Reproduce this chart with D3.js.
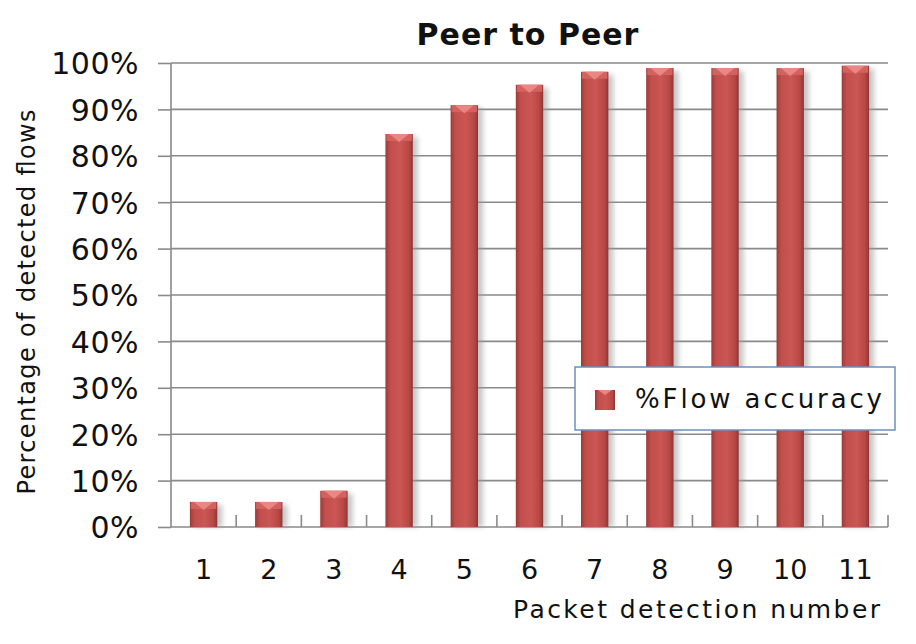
<!DOCTYPE html>
<html>
<head>
<meta charset="utf-8">
<script src="https://cdn.jsdelivr.net/npm/d3@7"></script>
<style>
  body { margin: 0; background: #fff; }
  text { font-family: "DejaVu Sans", Tahoma, sans-serif; fill: #111; }
</style>
</head>
<body>
<div class="chart"></div>
<script>
// Data
var categories = ["1", "2", "3", "4", "5", "6", "7", "8", "9", "10", "11"];
var flowAccuracy = [5.4, 5.4, 7.8, 84.7, 90.9, 95.3, 98.1, 98.9, 98.9, 98.9, 99.4];
var yTicks = [0, 10, 20, 30, 40, 50, 60, 70, 80, 90, 100];
var seriesName = "%Flow accuracy";

var svgWidth = 916;
var svgHeight = 644;

var margin = {
  top: 63,
  right: 28,
  bottom: 117,
  left: 171
};

var height = svgHeight - margin.top - margin.bottom;
var width = svgWidth - margin.left - margin.right;

var svg = d3.select(".chart")
  .append("svg")
  .attr("width", svgWidth)
  .attr("height", svgHeight);

// gradients for the 3D look of the columns
var defs = svg.append("defs");
var grad = defs.append("linearGradient").attr("id", "barGrad");
grad.append("stop").attr("offset", "0%").attr("stop-color", "#9b3b39");
grad.append("stop").attr("offset", "18%").attr("stop-color", "#c24f4c");
grad.append("stop").attr("offset", "55%").attr("stop-color", "#cb5653");
grad.append("stop").attr("offset", "85%").attr("stop-color", "#b84845");
grad.append("stop").attr("offset", "100%").attr("stop-color", "#8e3634");

var blur = defs.append("filter").attr("id", "shadow")
  .attr("x", "-30%").attr("y", "-10%").attr("width", "160%").attr("height", "120%");
blur.append("feGaussianBlur").attr("stdDeviation", 2.5);

var chartGroup = svg.append("g")
  .attr("transform", `translate(${margin.left}, ${margin.top})`);

// Step 1: scales
var xBandScale = d3.scaleBand()
  .domain(categories)
  .range([0, width]);

var yLinearScale = d3.scaleLinear()
  .domain([0, 100])
  .range([height, 0]);

var barWidth = xBandScale.bandwidth() * 0.42;

// Step 2: gridlines
chartGroup.append("g")
  .selectAll("line")
  .data(yTicks.filter(d => d > 0))
  .enter()
  .append("line")
  .attr("x1", 0)
  .attr("x2", width)
  .attr("y1", d => yLinearScale(d))
  .attr("y2", d => yLinearScale(d))
  .attr("stroke", "#8a8a8a")
  .attr("stroke-width", 1.6);

// Step 3: axes
var leftAxis = d3.axisLeft(yLinearScale)
  .tickValues(yTicks)
  .tickSize(13)
  .tickPadding(19)
  .tickFormat(d => d + "%");

var yAxis = chartGroup.append("g").call(leftAxis);
yAxis.select(".domain").remove();
yAxis.append("line")
  .attr("x1", 0).attr("x2", 0)
  .attr("y1", 0).attr("y2", height)
  .attr("stroke", "#8a8a8a").attr("stroke-width", 1.6);
yAxis.selectAll(".tick line").attr("stroke", "#8a8a8a").attr("stroke-width", 1.6);
yAxis.selectAll(".tick text")
  .attr("font-size", "30px")
  .attr("dy", "0.36em")
  .attr("letter-spacing", "0.5px")
  .style("font-family", "'DejaVu Sans', Tahoma, sans-serif")
  .attr("fill", "#111");

var bottomAxis = d3.axisBottom(xBandScale).tickSize(0).tickPadding(33);
var xAxis = chartGroup.append("g")
  .attr("transform", `translate(0, ${height})`)
  .call(bottomAxis);
xAxis.select(".domain").remove();
xAxis.selectAll(".tick text")
  .attr("font-size", "27px")
  .style("font-family", "'DejaVu Sans', Tahoma, sans-serif")
  .attr("fill", "#111");
xAxis.append("line")
  .attr("x1", 0).attr("x2", width)
  .attr("stroke", "#8a8a8a").attr("stroke-width", 1.6);

// inward tick marks between categories
xAxis.selectAll(".sep")
  .data(categories)
  .enter()
  .append("line")
  .attr("class", "sep")
  .attr("x1", d => xBandScale(d) + xBandScale.bandwidth())
  .attr("x2", d => xBandScale(d) + xBandScale.bandwidth())
  .attr("y1", 0)
  .attr("y2", -12)
  .attr("stroke", "#8a8a8a")
  .attr("stroke-width", 1.6);

// Step 4: columns
var bars = chartGroup.selectAll(".bar")
  .data(flowAccuracy)
  .enter()
  .append("g")
  .attr("class", "bar")
  .attr("transform", (d, i) => `translate(${xBandScale(categories[i]) + (xBandScale.bandwidth() - barWidth) / 2}, 0)`);

bars.append("rect")
  .attr("x", 3)
  .attr("y", d => yLinearScale(d) + 3)
  .attr("width", barWidth + 2)
  .attr("height", d => height - yLinearScale(d) - 3)
  .attr("fill", "#9a9a9a")
  .attr("opacity", 0.55)
  .attr("filter", "url(#shadow)");

bars.append("rect")
  .attr("x", 0)
  .attr("y", d => yLinearScale(d))
  .attr("width", barWidth)
  .attr("height", d => height - yLinearScale(d))
  .attr("fill", "url(#barGrad)");

// top cap
bars.append("rect")
  .attr("x", 1)
  .attr("y", d => yLinearScale(d))
  .attr("width", barWidth - 2)
  .attr("height", 7)
  .attr("fill", "#d3615e");

bars.append("path")
  .attr("d", d => {
    var y0 = yLinearScale(d);
    return `M${4},${y0} L${barWidth - 4},${y0} L${barWidth / 2},${y0 + 8} Z`;
  })
  .attr("fill", "#e98784");

// Step 5: titles
svg.append("text")
  .attr("x", 528)
  .attr("y", 45)
  .attr("text-anchor", "middle")
  .attr("font-size", "30px")
  .attr("font-weight", "bold")
  .attr("letter-spacing", "1px")
  .text("Peer to Peer");

svg.append("text")
  .attr("transform", "translate(35, 302) rotate(-90)")
  .attr("text-anchor", "middle")
  .attr("font-size", "24px")
  .attr("textLength", 385)
  .attr("lengthAdjust", "spacing")
  .text("Percentage of detected flows");

svg.append("text")
  .attr("x", 513)
  .attr("y", 618)
  .attr("font-size", "25px")
  .attr("textLength", 367)
  .attr("lengthAdjust", "spacing")
  .text("Packet detection number");

// Step 6: legend
var legend = svg.append("g").attr("transform", "translate(575, 367)");
legend.append("rect")
  .attr("width", 320)
  .attr("height", 63)
  .attr("fill", "#fff")
  .attr("stroke", "#6d8ebf")
  .attr("stroke-width", 1.5);
legend.append("rect")
  .attr("x", 20).attr("y", 23)
  .attr("width", 20).attr("height", 20)
  .attr("fill", "url(#barGrad)");
legend.append("path")
  .attr("d", "M23,23 L37,23 L30,28 Z")
  .attr("fill", "#e98784");
legend.append("text")
  .attr("x", 60)
  .attr("y", 41)
  .attr("font-size", "26px")
  .attr("textLength", 247)
  .attr("lengthAdjust", "spacing")
  .text(seriesName);
</script>
</body>
</html>
